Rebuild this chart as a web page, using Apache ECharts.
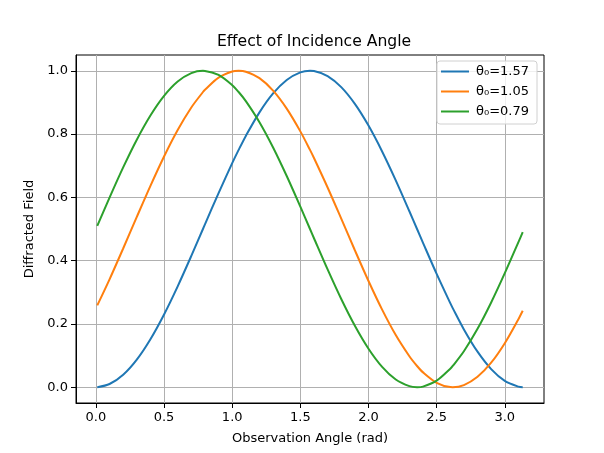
<!DOCTYPE html>
<html>
<head>
<meta charset="utf-8">
<script src="https://cdn.jsdelivr.net/npm/echarts@6/dist/echarts.min.js"></script>
<style>html,body{margin:0;padding:0;background:#fff}#c{width:604px;height:453px}</style>
</head>
<body>
<div id="c"></div>
<script>
const xValues = [0.01,0.1,0.2,0.3,0.4,0.5,0.6,0.7,0.7854,0.8,0.9,1.0,1.0472,1.1,1.2,1.3,1.4,1.5,1.5708,1.6,1.7,1.8,1.9,2.0,2.1,2.2,2.3,2.3562,2.4,2.5,2.6,2.618,2.7,2.8,2.9,3.0,3.1,3.1316];
const seriesNames = ['θ₀=1.57','θ₀=1.05','θ₀=0.79'];
const field157 = [0.0001,0.0100,0.0395,0.0873,0.1517,0.2299,0.3188,0.4150,0.5000,0.5146,0.6136,0.7081,0.7500,0.7943,0.8687,0.9285,0.9711,0.9950,1.0000,0.9992,0.9834,0.9484,0.8955,0.8268,0.7451,0.6537,0.5561,0.5000,0.4563,0.3582,0.2657,0.2500,0.1827,0.1122,0.0572,0.0199,0.0017,0.0001];
const field105 = [0.2587,0.3410,0.4384,0.5382,0.6364,0.7293,0.8130,0.8842,0.9330,0.9401,0.9785,0.9978,1.0000,0.9972,0.9768,0.9375,0.8806,0.8086,0.7500,0.7243,0.6311,0.5326,0.4328,0.3357,0.2452,0.1648,0.0978,0.0670,0.0468,0.0139,0.0003,0.0000,0.0067,0.0328,0.0774,0.1390,0.2149,0.2414];
const field079 = [0.5100,0.5993,0.6947,0.7823,0.8587,0.9207,0.9660,0.9927,1.0000,0.9998,0.9869,0.9547,0.9330,0.9043,0.8377,0.7578,0.6675,0.5706,0.5000,0.4708,0.3722,0.2787,0.1941,0.1216,0.0642,0.0242,0.0032,0.0000,0.0019,0.0205,0.0583,0.0670,0.1136,0.1844,0.2677,0.3603,0.4585,0.4900];
const xTicks = [0,0.5,1.0,1.5,2.0,2.5,3.0];
const yTicks = [0,0.2,0.4,0.6,0.8,1.0];
const colors = ['#1f77b4','#ff7f0e','#2ca02c'];

const pair = arr => xValues.map((x,i)=>[x,arr[i]]);
const font = 'DejaVu Sans';
const chart = echarts.init(document.getElementById('c'), null, {renderer:'canvas'});
const mkSeries = (name, arr, color) => ({
  name, type:'line', data: pair(arr), showSymbol:false, smooth:0.3,
  lineStyle:{color, width:2}, itemStyle:{color}, animation:false
});
chart.setOption({
  animation:false,
  title:{text:'Effect of Incidence Angle', left:212, top:29,
    textStyle:{fontFamily:font, fontSize:15.6, fontWeight:'normal', color:'#000'}},
  grid:{left:76, right:60, top:55, bottom:50, show:true, borderColor:'#000', borderWidth:1, containLabel:false},
  legend:{orient:'vertical', right:67, top:61, icon:'rect', itemWidth:28, itemHeight:2,
    itemGap:7, padding:[4,8,6,4], borderColor:'#d0d0d0', borderWidth:1, borderRadius:3,
    backgroundColor:'rgba(255,255,255,0.8)',
    textStyle:{fontFamily:font, fontSize:13, color:'#000', padding:[0,0,0,2]},
    data: seriesNames},
  xAxis:{type:'value', min:-0.1461, max:3.2877,
    name:'Observation Angle (rad)', nameLocation:'middle', nameGap:29,
    nameTextStyle:{fontFamily:font, fontSize:13, color:'#000'},
    axisLine:{show:true, onZero:false, lineStyle:{color:'#000'}},
    axisTick:{show:true, length:5, customValues:xTicks, lineStyle:{color:'#000'}},
    axisLabel:{customValues:xTicks, margin:8, fontFamily:font, fontSize:13, color:'#000',
      formatter:v=>v.toFixed(1)},
    splitLine:{show:true, lineStyle:{color:'#b0b0b0', width:1}}},
  yAxis:{type:'value', min:-0.05, max:1.05,
    name:'Diffracted Field', nameLocation:'middle', nameGap:37,
    nameTextStyle:{fontFamily:font, fontSize:13, color:'#000'},
    axisLine:{show:true, onZero:false, lineStyle:{color:'#000'}},
    axisTick:{show:true, length:5, customValues:yTicks, lineStyle:{color:'#000'}},
    axisLabel:{customValues:yTicks, margin:8, fontFamily:font, fontSize:13, color:'#000',
      formatter:v=>v.toFixed(1)},
    splitLine:{show:true, lineStyle:{color:'#b0b0b0', width:1}}},
  series:[
    mkSeries(seriesNames[0], field157, colors[0]),
    mkSeries(seriesNames[1], field105, colors[1]),
    mkSeries(seriesNames[2], field079, colors[2])
  ]
});
</script>
</body>
</html>
